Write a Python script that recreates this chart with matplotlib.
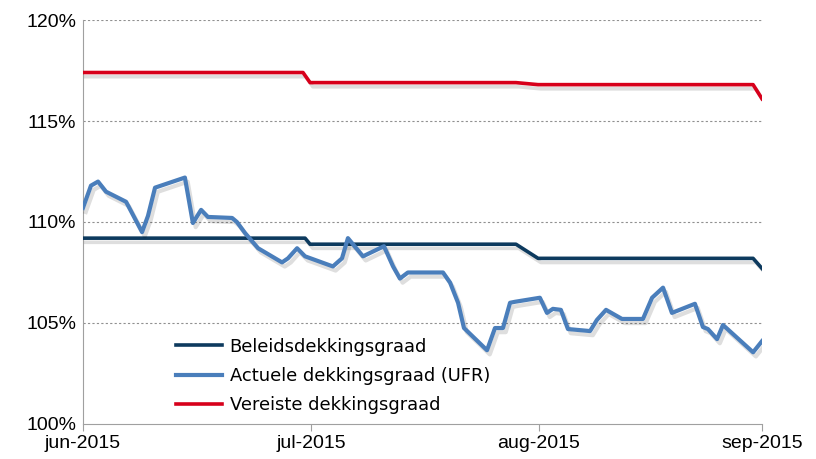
import matplotlib
matplotlib.use("Agg")
import matplotlib.pyplot as plt
import matplotlib.patheffects as pe
from matplotlib import font_manager

# x in months since 1 jun 2015
actuele_x = [0.0, 0.035, 0.066, 0.101, 0.189, 0.259, 0.285, 0.316, 0.447, 0.482,
             0.518, 0.548, 0.654, 0.675, 0.711, 0.768, 0.873, 0.899, 0.939, 0.974,
             1.096, 1.136, 1.162, 1.228, 1.320, 1.360, 1.390, 1.425, 1.579, 1.610,
             1.645, 1.671, 1.772, 1.807, 1.842, 1.873, 1.895, 2.004, 2.035, 2.061,
             2.096, 2.127, 2.224, 2.254, 2.294, 2.364, 2.456, 2.496, 2.544, 2.583,
             2.684, 2.719, 2.741, 2.781, 2.807, 2.939, 2.978]
actuele = [110.7, 111.8, 112.0, 111.5, 111.0, 109.5, 110.3, 111.7, 112.2, 109.95,
           110.6, 110.25, 110.2, 110.0, 109.45, 108.7, 108.0, 108.2, 108.7, 108.3,
           107.8, 108.2, 109.2, 108.3, 108.8, 107.8, 107.2, 107.5, 107.5, 107.0,
           106.0, 104.75, 103.65, 104.75, 104.75, 106.0, 106.05, 106.25, 105.5, 105.7,
           105.65, 104.7, 104.6, 105.15, 105.65, 105.2, 105.2, 106.25, 106.75, 105.5,
           105.95, 104.8, 104.7, 104.2, 104.9, 103.55, 104.1]

beleids_x = [0.0, 0.974, 0.996, 1.899, 1.996, 2.939, 2.978]
beleids = [109.2, 109.2, 108.9, 108.9, 108.2, 108.2, 107.7]

vereist_x = [0.0, 0.965, 0.996, 1.899, 1.996, 2.939, 2.978]
vereist = [117.4, 117.4, 116.9, 116.9, 116.8, 116.8, 116.1]

tick_pos = [0, 1, 2, 2.978]
tick_labels = ["jun-2015", "jul-2015", "aug-2015", "sep-2015"]
y_ticks = [100, 105, 110, 115, 120]

names = {f.name for f in font_manager.fontManager.ttflist}
tick_font = "Liberation Sans Narrow" if "Liberation Sans Narrow" in names else "Liberation Sans"
tick_size = 14.5 if tick_font == "Liberation Sans Narrow" else 14

fig = plt.figure(figsize=(8.16, 4.59), dpi=100)
ax = fig.add_axes([0.1017, 0.0763, 0.8321, 0.8801])

shadow = [pe.SimpleLineShadow(offset=(2, -3), alpha=0.13, shadow_color="black"), pe.Normal()]

ax.plot(beleids_x, beleids, color="#0D3A5E", lw=2.6, label="Beleidsdekkingsgraad",
        path_effects=shadow, zorder=3)
ax.plot(actuele_x, actuele, color="#4A7EBB", lw=3.0, label="Actuele dekkingsgraad (UFR)",
        path_effects=shadow, zorder=4)
ax.plot(vereist_x, vereist, color="#D7001B", lw=2.6, label="Vereiste dekkingsgraad",
        path_effects=shadow, zorder=3)

ax.set_xlim(0, 2.978)
ax.set_ylim(100, 120)
ax.set_yticks(y_ticks)
ax.set_yticklabels([f"{v}%" for v in y_ticks], fontfamily=tick_font, fontsize=tick_size)
ax.set_xticks(tick_pos)
ax.set_xticklabels(tick_labels, fontfamily=tick_font, fontsize=tick_size)
ax.tick_params(axis="y", length=0, pad=5)
ax.tick_params(axis="x", length=5, color="#A0A0A0", pad=3)

for v in y_ticks[1:]:
    ax.axhline(v, color="#909090", lw=0.8, ls=(0, (2, 2)), zorder=1)

for s in ["top", "right"]:
    ax.spines[s].set_visible(False)
ax.spines["left"].set_color("#A0A0A0")
ax.spines["bottom"].set_color("#A0A0A0")

leg = ax.legend(loc="lower left", bbox_to_anchor=(0.113, -0.015), frameon=False,
                prop={"family": "DejaVu Sans", "size": 12.9}, handlelength=2.6,
                handletextpad=0.4, labelspacing=0.62)
for h in leg.get_lines():
    h.set_path_effects([])

fig.savefig("out.png", dpi=100)
